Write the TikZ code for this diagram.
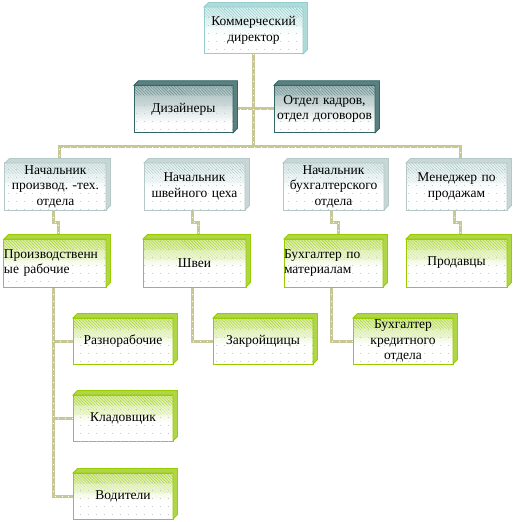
\documentclass[tikz,border=0pt]{standalone}
\usepackage{fontspec}
\setmainfont{Liberation Serif}
\usetikzlibrary{calc,backgrounds,patterns}
\frenchspacing

\definecolor{connC}{RGB}{200,200,150}
\definecolor{bordG}{RGB}{153,204,0}
\definecolor{tintG}{RGB}{178,218,80}
\definecolor{depG}{RGB}{175,214,70}
\definecolor{bordT}{RGB}{51,102,102}
\definecolor{tintT}{RGB}{105,140,140}
\definecolor{depT}{RGB}{90,128,128}
\definecolor{bordC}{RGB}{150,204,204}
\definecolor{tintC}{RGB}{175,224,224}
\definecolor{depC}{RGB}{175,218,218}
\definecolor{bordS}{RGB}{180,200,200}
\definecolor{tintS}{RGB}{198,224,224}
\definecolor{depS}{RGB}{200,214,214}

\pgfdeclareverticalshading{shG}{100bp}{color(0bp)=(white); color(45bp)=(white); color(75bp)=(tintG!55!white); color(100bp)=(tintG)}
\pgfdeclareverticalshading{shT}{100bp}{color(0bp)=(white); color(35bp)=(white); color(70bp)=(tintT!55!white); color(100bp)=(tintT)}
\pgfdeclareverticalshading{shC}{100bp}{color(0bp)=(white); color(45bp)=(white); color(75bp)=(tintC!55!white); color(100bp)=(tintC)}
\pgfdeclareverticalshading{shS}{100bp}{color(0bp)=(white); color(45bp)=(white); color(75bp)=(tintS!55!white); color(100bp)=(tintS)}

\pgfdeclarepatternformonly{sdots}{\pgfpointorigin}{\pgfpoint{8bp}{8bp}}{\pgfpoint{8bp}{8bp}}{\pgfpathrectangle{\pgfpoint{0bp}{0bp}}{\pgfpoint{1bp}{1bp}}\pgfusepath{fill}}

\tikzset{
  base/.style={inner sep=0pt, outer sep=0pt, align=center, line width=1bp,
    font=\fontsize{13.5bp}{15.5bp}\selectfont,
    postaction={pattern=sdots, pattern color=black!22}},
  hatch/.style 2 args={path picture={
    \fill[pattern=north west lines, pattern color=#1]
      (path picture bounding box.north west) rectangle
      ($(path picture bounding box.north east)!0.22!(path picture bounding box.south east)$);
    \fill[pattern=north west lines, pattern color=#2]
      ($(path picture bounding box.north west)!0.22!(path picture bounding box.south west)$) rectangle
      ($(path picture bounding box.north east)!0.42!(path picture bounding box.south east)$);}},
  wd/.style={text width=#1, minimum width=#1},
  ht/.style={minimum height=#1},
  boxG/.style={base, draw=bordG, shading=shG, hatch={bordG!85}{bordG!40}},
  boxT/.style={base, draw=bordT, shading=shT, hatch={bordT!75}{bordT!35}},
  boxC/.style={base, draw=bordC, shading=shC, hatch={bordC}{bordC!50}},
  boxS/.style={base, draw=bordS, shading=shS, hatch={bordS}{bordS!50}},
  conn/.style={draw=connC, line width=3bp,
    postaction={draw=white, line width=0.8bp, dash pattern=on 0.8bp off 6bp}},
}

\begin{document}
\begin{tikzpicture}[x=1bp, y=-1bp]
\useasboundingbox (0,0) rectangle (513,522);

% level 0 and 1
\node[boxC, wd=99bp, ht=47bp] (dir) at (253.5,30.5) {Коммерческий\\директор};
\node[boxT, wd=99bp, ht=47.5bp] (diz) at (183.5,109) {Дизайнеры};
\node[boxT, wd=101bp, ht=47.5bp] (otd) at (324.5,109) {Отдел кадров,\\отдел договоров};

% level 2
\node[boxS, wd=101bp, ht=47bp] (n1) at (55.5,186.5) {Начальник\\производ. -тех.\\отдела};
\node[boxS, wd=101bp, ht=47bp] (n2) at (194.5,186.5) {Начальник\\швейного цеха};
\node[boxS, wd=101bp, ht=47bp] (n3) at (333.5,186.5) {Начальник\\бухгалтерского\\отдела};
\node[boxS, wd=101bp, ht=47bp] (n4) at (456.5,186.5) {Менеджер по\\продажам};

% level 3
\node[boxG, wd=102bp, ht=48bp, align=left] (m1) at (55,263) {Производственн\\ые рабочие};
\node[boxG, wd=103bp, ht=48bp] (m2) at (194.5,263) {Швеи};
\node[boxG, wd=99bp, ht=48bp, align=left] (m3) at (333.5,263) {Бухгалтер по\\материалам};
\node[boxG, wd=101bp, ht=48bp] (m4) at (456.5,263) {Продавцы};

% level 4
\node[boxG, wd=100bp, ht=46bp] (razn) at (123,341) {Разнорабочие};
\node[boxG, wd=100bp, ht=46bp] (klad) at (123,418) {Кладовщик};
\node[boxG, wd=100bp, ht=46bp] (vod) at (123,496) {Водители};
\node[boxG, wd=100bp, ht=46bp] (zakr) at (263,341) {Закройщицы};
\node[boxG, wd=100bp, ht=46bp] (bkr) at (403,341) {Бухгалтер\\кредитного\\отдела};

% 3D depth faces
\foreach \n/\fc/\bc in {dir/depC/bordC, diz/depT/bordT, otd/depT/bordT,
  n1/depS/bordS, n2/depS/bordS, n3/depS/bordS, n4/depS/bordS,
  m1/depG/bordG, m2/depG/bordG, m3/depG/bordG, m4/depG/bordG,
  razn/depG/bordG, klad/depG/bordG, vod/depG/bordG, zakr/depG/bordG, bkr/depG/bordG}{
  \filldraw[fill=\fc, draw=\bc, line width=0.8bp, line join=miter]
    (\n.north west) -- ++(4.5,-4.5) -- ($(\n.north east)+(4.5,-4.5)$)
    -- ($(\n.south east)+(4.5,-4.5)$) -- (\n.south east) -- (\n.north east) -- cycle;
}

% connectors
\coordinate (busy) at (0,147);
\begin{scope}[on background layer]
  \draw[conn] (dir.south) -- (dir.south |- busy);
  \draw[conn] (diz.east) -- (otd.west);
  \draw[conn] ($(n1.north)+(3.5,0)$) |- (busy -| {$(n4.north)+(3.5,0)$}) -- ($(n4.north)+(3.5,0)$);
  \draw[conn] ($(n2.north)+(3.5,0)$) -- ($(n2.north)+(3.5,0)$ |- busy);
  \draw[conn] ($(n3.north)+(3.5,0)$) -- ($(n3.north)+(3.5,0)$ |- busy);

  \draw[conn] ($(n1.south)+(-2,0)$) -- ++(0,12) -| ($(m1.north)+(3.5,0)$);
  \draw[conn] ($(n2.south)+(-2,0)$) -- ++(0,12) -| ($(m2.north)+(3.5,0)$);
  \draw[conn] ($(n3.south)+(-2,0)$) -- ++(0,12) -| ($(m3.north)+(5,0)$);
  \draw[conn] ($(n4.south)+(-2,0)$) -- ++(0,12) -| ($(m4.north)+(3.5,0)$);

  \draw[conn] ($(m1.south)+(-2,0)$) |- (vod.west);
  \draw[conn] ($(m1.south)+(-2,0)$) |- (razn.west);
  \draw[conn] ($(m1.south)+(-2,0)$) |- (klad.west);
  \draw[conn] ($(m2.south)+(-2,0)$) |- (zakr.west);
  \draw[conn] ($(m3.south)+(-2,0)$) |- (bkr.west);
\end{scope}
\end{tikzpicture}
\end{document}
